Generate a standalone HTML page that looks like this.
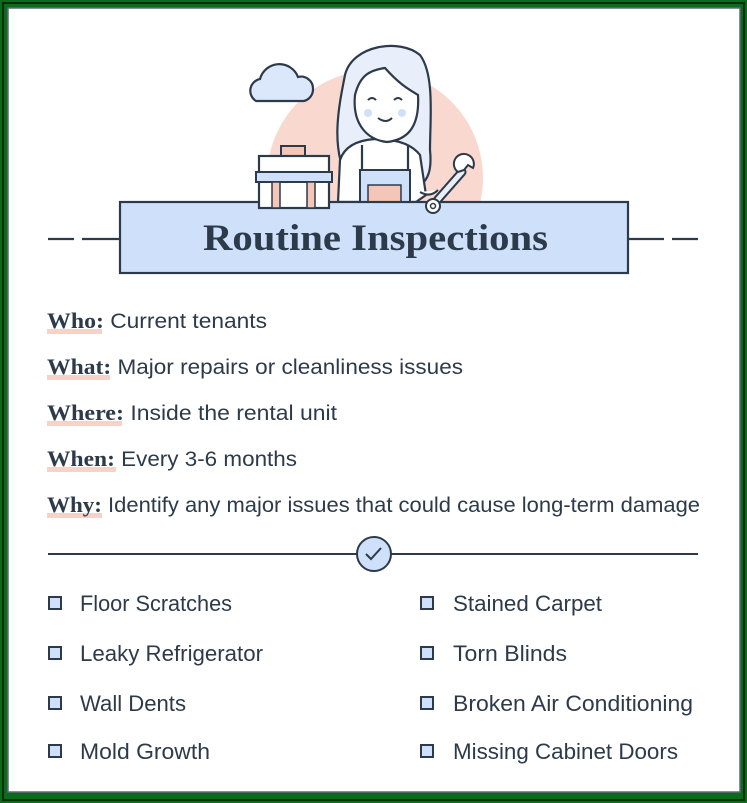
<!DOCTYPE html>
<html><head><meta charset="utf-8"><style>
html,body{margin:0;padding:0;background:#0b6a1c;}
svg{display:block}
</style></head><body>
<svg width="747" height="803" viewBox="0 0 747 803" xmlns="http://www.w3.org/2000/svg">
<rect x="0" y="0" width="747" height="803" fill="#0b6a1c"/>
<rect x="3" y="3" width="741" height="797" fill="none" stroke="#06300c" stroke-width="2"/>
<rect x="8" y="8" width="732" height="784" fill="#ffffff" stroke="#5d6b78" stroke-width="1.5"/>
<defs><clipPath id="c"><rect x="0" y="0" width="747" height="202"/></clipPath></defs>
<ellipse cx="375" cy="178" rx="108" ry="108" fill="#f9d9cf" clip-path="url(#c)"/>
<!-- cloud -->
<path d="M256 101 a12 12 0 0 1 4 -22 a20 20 0 0 1 38 -2 a12 12 0 0 1 15 12 a12 12 0 0 1 -9 12 z" fill="#dbe7fb" stroke="#2d3a4a" stroke-width="2.2"/>
<!-- hair -->
<path d="M350 185 C 330 150 338 110 345 75 C 352 45 400 38 420 55 C 435 75 430 120 430 150 C 432 170 428 180 420 185 Z" fill="#e8effb" stroke="#2d3a4a" stroke-width="2.2"/>
<!-- body -->
<path d="M338 202 L340 160 C 345 145 360 140 375 139 C 392 139 410 142 420 155 L426 195 L416 202 Z" fill="#ffffff" stroke="#2d3a4a" stroke-width="2.2"/>
<path d="M362 190 L362 145 M408 190 L408 145" stroke="#2d3a4a" stroke-width="2.2"/>
<rect x="360" y="170" width="50" height="32" fill="#cfe0fb" stroke="#2d3a4a" stroke-width="2"/>
<rect x="368" y="185" width="33" height="17" fill="#f4c6b8" stroke="#2d3a4a" stroke-width="1.5"/>
<!-- face -->
<path d="M355 95 C 360 75 370 70 385 68 C 400 85 410 90 418 95 C 420 130 405 140 387 142 C 368 140 352 125 355 95 Z" fill="#ffffff" stroke="#2d3a4a" stroke-width="2.2"/>
<path d="M368 100 q4 -4 8 0 M394 100 q4 -4 8 0" fill="none" stroke="#2d3a4a" stroke-width="2"/>
<circle cx="368" cy="113" r="4" fill="#cfe0fb"/><circle cx="402" cy="113" r="4" fill="#cfe0fb"/>
<path d="M378 118 q8 6 14 0" fill="none" stroke="#2d3a4a" stroke-width="2"/>
<!-- title box -->
<rect x="120" y="202" width="508" height="71" fill="#cfe0fb" stroke="#2d3a4a" stroke-width="2.2"/>
<path d="M48 239 H74 M82 239 H119 M629 239 H664 M672 239 H698" stroke="#2d3a4a" stroke-width="2.2"/>
<text x="203" y="250" font-family="Liberation Serif, serif" font-weight="bold" font-size="37" fill="#2d3a4a" textLength="345" lengthAdjust="spacingAndGlyphs">Routine Inspections</text>
<!-- toolbox -->
<rect x="281" y="146" width="24" height="10" fill="#f4c6b8" stroke="#2d3a4a" stroke-width="2"/>
<rect x="259" y="156" width="70" height="52" fill="#ffffff" stroke="#2d3a4a" stroke-width="2.2"/>
<rect x="256" y="172" width="76" height="10" fill="#cfe0fb" stroke="#2d3a4a" stroke-width="2"/>
<rect x="272" y="182" width="8" height="26" fill="#f4c6b8" stroke="#2d3a4a" stroke-width="1.5"/>
<rect x="307" y="182" width="8" height="26" fill="#f4c6b8" stroke="#2d3a4a" stroke-width="1.5"/>
<!-- wrench / hand -->
<path d="M420 192 q10 6 18 -2" fill="#fff" stroke="#2d3a4a" stroke-width="2"/>
<path d="M433 205 L462 172" stroke="#2d3a4a" stroke-width="9" stroke-linecap="round"/>
<path d="M433 205 L462 172" stroke="#e8effb" stroke-width="5" stroke-linecap="round"/>
<circle cx="433" cy="206" r="7" fill="#fff" stroke="#2d3a4a" stroke-width="2"/>
<circle cx="433" cy="206" r="2.5" fill="none" stroke="#2d3a4a" stroke-width="1.5"/>
<path d="M458 172 a10 10 0 1 1 15 -4 l-5 -3 l-4 5 z" fill="#fff" stroke="#2d3a4a" stroke-width="2"/>
<!-- info lines -->
<g font-family="Liberation Sans, sans-serif" font-size="21" fill="#2d3a4a">
<g fill="#f6d3c8"><rect x="47" y="329" width="55" height="5"/><rect x="47" y="375" width="63" height="5"/><rect x="47" y="421" width="75" height="5"/><rect x="47" y="467" width="69" height="5"/><rect x="47" y="513" width="55" height="5"/></g>
<text x="47" y="328" textLength="220" lengthAdjust="spacingAndGlyphs"><tspan font-family="Liberation Serif, serif" font-weight="bold" font-size="22">Who:</tspan> Current tenants</text>
<text x="47" y="374" textLength="416" lengthAdjust="spacingAndGlyphs"><tspan font-family="Liberation Serif, serif" font-weight="bold" font-size="22">What:</tspan> Major repairs or cleanliness issues</text>
<text x="47" y="420" textLength="290" lengthAdjust="spacingAndGlyphs"><tspan font-family="Liberation Serif, serif" font-weight="bold" font-size="22">Where:</tspan> Inside the rental unit</text>
<text x="47" y="466" textLength="250" lengthAdjust="spacingAndGlyphs"><tspan font-family="Liberation Serif, serif" font-weight="bold" font-size="22">When:</tspan> Every 3-6 months</text>
<text x="47" y="512" textLength="653" lengthAdjust="spacingAndGlyphs"><tspan font-family="Liberation Serif, serif" font-weight="bold" font-size="22">Why:</tspan> Identify any major issues that could cause long-term damage</text>
</g>
<!-- divider -->
<path d="M48 554 H357 M391 554 H698" stroke="#2d3a4a" stroke-width="2"/>
<circle cx="374" cy="554" r="17" fill="#cfe0fb" stroke="#2d3a4a" stroke-width="2"/>
<path d="M366 554 l5 5 l10 -11" fill="none" stroke="#2d3a4a" stroke-width="2"/>
<!-- checklist -->
<g fill="#cfe0fb" stroke="#2d3a4a" stroke-width="2">
<rect x="49" y="597" width="12" height="12"/><rect x="49" y="647" width="12" height="12"/><rect x="49" y="697" width="12" height="12"/><rect x="49" y="745" width="12" height="12"/>
<rect x="421" y="597" width="12" height="12"/><rect x="421" y="647" width="12" height="12"/><rect x="421" y="697" width="12" height="12"/><rect x="421" y="745" width="12" height="12"/>
</g>
<g font-family="Liberation Sans, sans-serif" font-size="22" fill="#2d3a4a">
<text x="80" y="611" textLength="152" lengthAdjust="spacingAndGlyphs">Floor Scratches</text>
<text x="80" y="661" textLength="183" lengthAdjust="spacingAndGlyphs">Leaky Refrigerator</text>
<text x="80" y="711" textLength="106" lengthAdjust="spacingAndGlyphs">Wall Dents</text>
<text x="80" y="759" textLength="130" lengthAdjust="spacingAndGlyphs">Mold Growth</text>
<text x="453" y="611" textLength="149" lengthAdjust="spacingAndGlyphs">Stained Carpet</text>
<text x="453" y="661" textLength="114" lengthAdjust="spacingAndGlyphs">Torn Blinds</text>
<text x="453" y="711" textLength="240" lengthAdjust="spacingAndGlyphs">Broken Air Conditioning</text>
<text x="453" y="759" textLength="225" lengthAdjust="spacingAndGlyphs">Missing Cabinet Doors</text>
</g>
</svg>
</body></html>
